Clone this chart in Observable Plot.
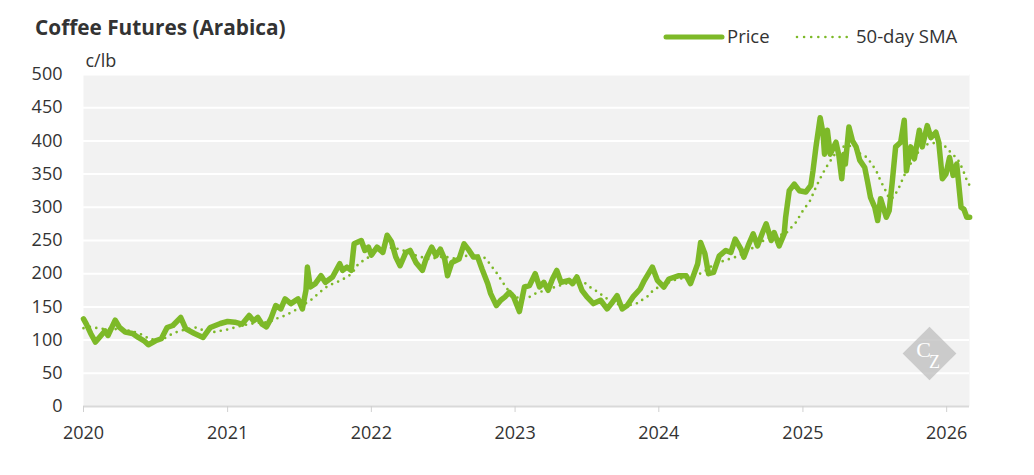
<!DOCTYPE html>
<html>
<head>
<meta charset="utf-8">
<script src="https://cdn.jsdelivr.net/npm/d3@7"></script>
<script src="https://cdn.jsdelivr.net/npm/@observablehq/plot@0.6"></script>
<style>
  html, body { margin: 0; padding: 0; background: #fff; }
  body { width: 1034px; height: 475px; overflow: hidden; font-family: "Open Sans", sans-serif; color: #333; }
  #header { position: relative; height: 48px; }
  #title { position: absolute; left: 35px; top: 17px; font-size: 20.8px; font-weight: 700; line-height: 1; color: #333; white-space: nowrap; }
  .leg { position: absolute; top: 27px; font-size: 18.5px; line-height: 1; color: #333; white-space: nowrap; }
  .sw { position: absolute; top: 32px; }
</style>
</head>
<body>
<div id="header">
  <div id="title">Coffee Futures (Arabica)</div>
  <svg class="sw" style="left:663px" width="62" height="10"><line x1="3" y1="5" x2="59" y2="5" stroke="#7db928" stroke-width="5" stroke-linecap="round"/></svg>
  <div class="leg" style="left:727px">Price</div>
  <svg class="sw" style="left:794px" width="56" height="10"><line x1="3" y1="5" x2="53" y2="5" stroke="#7db928" stroke-width="2.6" stroke-linecap="round" stroke-dasharray="0 7.1"/></svg>
  <div class="leg" style="left:856px">50-day SMA</div>
</div>
<div id="chart"></div>
<script>
// ---- data (decimal year, c/lb) ----
const priceT = [
2020.00,2020.02,2020.05,2020.083,2020.11,2020.15,2020.17,2020.22,2020.25,2020.29,2020.34,2020.38,2020.42,2020.45,2020.50,2020.54,2020.58,2020.62,2020.675,2020.71,2020.77,2020.83,2020.88,2020.95,
2021.00,2021.05,2021.10,2021.15,2021.18,2021.21,2021.24,2021.27,2021.30,2021.335,2021.37,2021.40,2021.44,2021.49,2021.52,2021.545,2021.555,2021.575,2021.61,2021.65,2021.68,2021.73,2021.78,2021.80,2021.83,2021.86,2021.88,2021.93,2021.955,2021.98,
2022.00,2022.04,2022.08,2022.11,2022.14,2022.17,2022.20,2022.24,2022.27,2022.31,2022.355,2022.38,2022.42,2022.45,2022.48,2022.51,2022.53,2022.56,2022.61,2022.645,2022.68,2022.71,2022.74,2022.77,2022.81,2022.83,2022.87,2022.90,2022.93,2022.96,2022.99,
2023.03,2023.065,2023.10,2023.14,2023.17,2023.20,2023.23,2023.26,2023.29,2023.32,2023.375,2023.40,2023.43,2023.465,2023.50,2023.545,2023.595,2023.64,2023.67,2023.71,2023.745,2023.78,2023.82,2023.87,2023.90,2023.955,2023.99,
2024.035,2024.07,2024.14,2024.19,2024.22,2024.27,2024.29,2024.32,2024.345,2024.38,2024.42,2024.465,2024.50,2024.53,2024.57,2024.59,2024.625,2024.655,2024.685,2024.72,2024.745,2024.78,2024.80,2024.835,2024.87,2024.88,2024.905,2024.94,2024.975,
2025.02,2025.055,2025.07,2025.09,2025.12,2025.14,2025.15,2025.17,2025.19,2025.23,2025.25,2025.27,2025.285,2025.295,2025.32,2025.345,2025.37,2025.395,2025.43,2025.45,2025.47,2025.50,2025.52,2025.54,2025.58,2025.60,2025.62,2025.645,2025.68,2025.705,2025.72,2025.75,2025.775,2025.81,2025.83,2025.865,2025.89,2025.925,2025.945,2025.97,2025.995,
2026.02,2026.045,2026.07,2026.10,2026.12,2026.14,2026.16
];
const priceV = [
132,124,110,97,104,114,107,130,119,112,110,104,99,93,99,102,119,122,134,117,110,104,119,125,
128,127,124,137,129,134,124,120,132,152,147,162,155,162,147,175,210,180,185,197,187,195,215,205,210,205,245,250,235,240,
228,240,232,258,248,225,212,232,235,217,205,222,240,227,237,222,197,217,222,245,235,225,225,207,185,170,152,160,165,172,165,
143,180,182,200,180,187,175,192,205,187,190,185,195,175,165,155,160,147,155,167,147,152,165,177,190,210,190,
180,192,197,197,185,215,247,230,200,202,227,235,232,252,237,225,245,260,242,262,275,250,262,242,260,285,325,335,325,
323,333,355,390,435,411,380,416,380,398,378,343,380,365,421,400,391,371,360,338,315,300,280,313,285,295,335,391,398,431,355,391,373,416,391,423,405,413,398,343,350,
375,348,365,300,297,285,285
];
const smaT = [
2020.00,2020.05,2020.12,2020.20,2020.30,2020.36,2020.42,2020.46,2020.55,2020.62,2020.67,2020.78,2020.84,2020.90,
2021.00,2021.10,2021.20,2021.29,2021.335,2021.40,2021.47,2021.52,2021.59,2021.64,2021.70,2021.79,2021.845,2021.88,2021.91,2021.96,
2022.02,2022.10,2022.20,2022.30,2022.40,2022.50,2022.60,2022.70,2022.78,2022.80,2022.84,2022.86,2022.89,2022.92,2022.945,2022.98,
2023.03,2023.10,2023.14,2023.25,2023.35,2023.48,2023.52,2023.58,2023.62,2023.66,2023.70,2023.77,2023.84,2023.87,2023.89,2023.93,2023.96,
2024.00,2024.10,2024.20,2024.30,2024.39,2024.46,2024.53,2024.60,2024.675,2024.74,2024.81,2024.88,2024.95,
2025.00,2025.05,2025.09,2025.135,2025.17,2025.21,2025.24,2025.275,2025.32,2025.37,2025.40,2025.44,2025.47,2025.51,2025.54,2025.58,2025.60,2025.63,2025.665,2025.705,2025.74,2025.775,2025.81,2025.845,2025.88,2025.925,2025.97,
2026.005,2026.04,2026.075,2026.11,2026.145,2026.16
];
const smaV = [
118,120,117,117,115,112,107,101,101,110,114,119,114,112,
116,122,126,127,132,137,145,152,162,172,182,190,197,205,215,222,
230,240,237,228,222,226,222,230,225,222,210,205,195,185,177,170,
162,165,170,178,185,187,180,172,165,160,155,151,155,157,162,167,175,
180,190,195,201,215,220,225,232,242,252,257,260,277,
295,310,330,350,363,376,386,391,393,388,380,376,368,355,340,323,313,315,328,348,363,373,386,393,396,397,396,
388,380,373,358,338,333
];
const yTicks = [0,50,100,150,200,250,300,350,400,450,500];
const yearTicks = [2020,2021,2022,2023,2024,2025,2026];
const unitLabel = "c/lb";

// ---- helpers ----
function dec2date(t) {
  const y = Math.floor(t);
  const a = Date.UTC(y, 0, 1), b = Date.UTC(y + 1, 0, 1);
  return new Date(a + (t - y) * (b - a));
}
const price = priceT.map((t, i) => ({date: dec2date(t), value: priceV[i]}));
const sma = smaT.map((t, i) => ({date: dec2date(t), value: smaV[i]}));
const green = "#7db928";

const chart = Plot.plot({
  width: 1034,
  height: 427,
  marginLeft: 83,
  marginRight: 65,
  marginTop: 26,
  marginBottom: 69,
  style: {fontFamily: "'Open Sans', sans-serif", fontSize: "18px", color: "#333", background: "#fff", overflow: "visible"},
  x: {type: "utc", domain: [new Date(Date.UTC(2020,0,1)), new Date(Date.UTC(2026,1,28))]},
  y: {domain: [0, 500]},
  marks: [
    Plot.frame({fill: "#f2f2f2", stroke: null}),
    Plot.gridY(yTicks.filter(d => d > 0), {stroke: "#fff", strokeOpacity: 1, strokeWidth: 2}),
    Plot.ruleY([0], {stroke: "#d9d9d9", strokeWidth: 2}),
    Plot.axisY({ticks: yTicks, tickSize: 0, tickPadding: 21, label: null}),
    Plot.axisX({ticks: yearTicks.map(y => new Date(Date.UTC(y,0,1))), tickFormat: d3.utcFormat("%Y"), tickSize: 6, tickPadding: 14, stroke: "#d0d0d0", fill: "#333", label: null}),
    Plot.text([unitLabel], {frameAnchor: "top-left", dx: 2, dy: -8, textAnchor: "start", lineAnchor: "bottom", fontSize: 18, fill: "#333"}),
    Plot.line(sma, {x: "date", y: "value", stroke: green, strokeWidth: 2.7, strokeDasharray: "0 6.5", strokeLinecap: "round"}),
    Plot.line(price, {x: "date", y: "value", stroke: green, strokeWidth: 5.5, strokeLinejoin: "round", strokeLinecap: "round"})
  ]
});
document.getElementById("chart").appendChild(chart);

// watermark
const svg = d3.select(chart);
const wm = svg.append("g").attr("transform", "translate(929.5,305.5)");
wm.append("rect").attr("x", -19).attr("y", -19).attr("width", 38).attr("height", 38)
  .attr("transform", "rotate(45)").attr("fill", "#bdbdbd").attr("opacity", 0.75);
wm.append("text").attr("x", -6).attr("y", 3).attr("text-anchor", "middle")
  .attr("font-family", "'Liberation Serif', serif").attr("font-size", 22).attr("fill", "#fff").text("C");
wm.append("text").attr("x", 5).attr("y", 14).attr("text-anchor", "middle")
  .attr("font-family", "'Liberation Serif', serif").attr("font-size", 18).attr("fill", "#fff").text("Z");
</script>
</body>
</html>
